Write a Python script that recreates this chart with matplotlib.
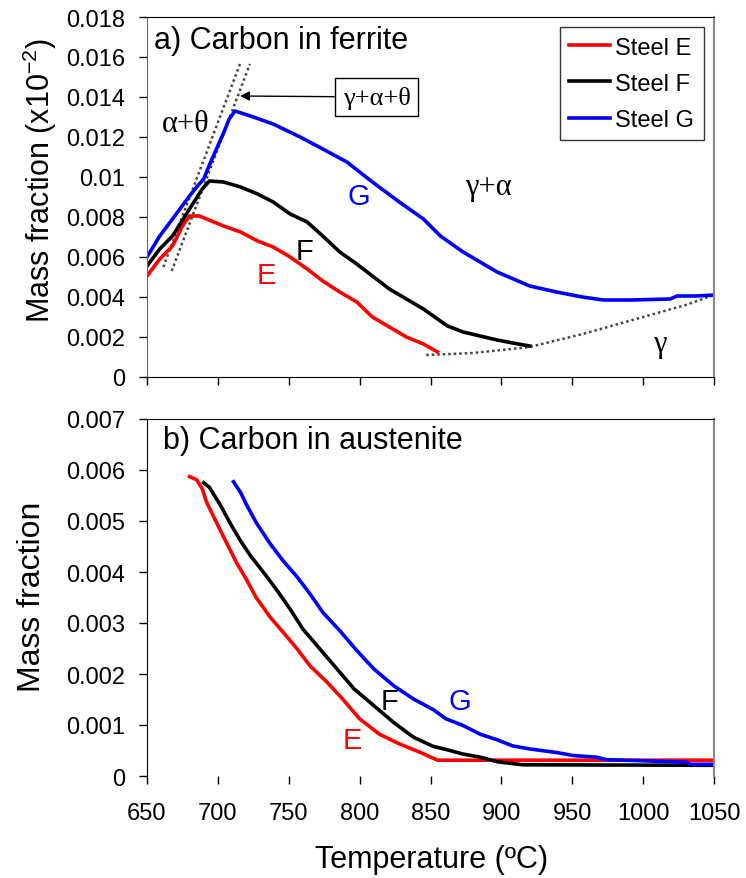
import matplotlib
matplotlib.use("Agg")
import matplotlib.pyplot as plt

plt.rcParams['font.family'] = ['Liberation Sans', 'DejaVu Sans']
plt.rcParams['mathtext.default'] = 'regular'

# ---------------- data: (a) carbon in ferrite ----------------
fe_E_T = [650, 659, 668, 675, 680, 687, 704, 716, 728, 739, 751, 763, 774, 786, 798, 809, 821, 833, 845, 855]
fe_E_C = [0.00505, 0.0059, 0.00655, 0.00755, 0.00805, 0.00805, 0.00755, 0.00725, 0.0068, 0.0065, 0.006, 0.0054,
          0.0048, 0.00425, 0.00375, 0.0030, 0.0025, 0.0020, 0.00165, 0.00125]
fe_F_T = [650, 659, 668, 680, 689, 694, 704, 716, 728, 739, 751, 763, 774, 786, 798, 809, 821, 833, 845, 857,
          862, 873, 885, 897, 908, 920]
fe_F_C = [0.00555, 0.0064, 0.00705, 0.0084, 0.0094, 0.0098, 0.00975, 0.0095, 0.00915, 0.00875, 0.00815, 0.00775,
          0.00705, 0.00625, 0.00565, 0.00505, 0.0044, 0.0039, 0.0034, 0.0028, 0.00255, 0.00225, 0.00205, 0.00185,
          0.0017, 0.00155]
fe_G_T = [650, 659, 668, 680, 685, 690, 694, 699, 704, 708, 712, 723, 739, 758, 774, 791, 809, 828, 845, 857,
          873, 897, 920, 939, 957, 972, 991, 1019, 1024, 1038, 1050]
fe_G_C = [0.0060, 0.00705, 0.0079, 0.00905, 0.0095, 0.0099, 0.0106, 0.0114, 0.0122, 0.0129, 0.0133, 0.01305,
          0.01265, 0.0120, 0.0114, 0.01075, 0.00975, 0.00875, 0.0079, 0.00705, 0.00625, 0.00525, 0.00455,
          0.00425, 0.0040, 0.00385, 0.00385, 0.0039, 0.00405, 0.00405, 0.0041]
# phase boundaries (dotted)
gam_T = [847, 880, 920, 960, 1000, 1030, 1050]
gam_C = [0.0011, 0.0012, 0.0015, 0.0022, 0.0030, 0.0036, 0.0041]
b1_T = [661.5, 715.6]
b1_C = [0.0055, 0.01565]
b2_T = [667.4, 722.6]
b2_C = [0.0053, 0.01565]

# ---------------- data: (b) carbon in austenite ----------------
au_E_T = [680, 685, 689, 692, 699, 706, 713, 720, 727, 737, 746, 756, 765, 777, 788, 800, 814, 828, 843, 855, 1050]
au_E_C = [0.00587, 0.00581, 0.00563, 0.00537, 0.00497, 0.00458, 0.00419, 0.00386, 0.0035, 0.00311, 0.00282,
          0.00249, 0.00216, 0.00184, 0.00151, 0.00112, 0.00082, 0.00063, 0.00046, 0.00031, 0.00031]
au_F_T = [690, 694, 702, 709, 716, 723, 732, 742, 751, 760, 772, 784, 796, 810, 824, 838, 852, 861, 873, 885,
          897, 906, 915, 1050]
au_F_C = [0.00575, 0.00566, 0.0053, 0.00494, 0.00461, 0.00432, 0.0040, 0.00363, 0.00327, 0.00288, 0.00249,
          0.0021, 0.00171, 0.00138, 0.00105, 0.00076, 0.00058, 0.00052, 0.00043, 0.00037, 0.00028, 0.00025,
          0.00022, 0.00021]
au_G_T = [711, 716, 720, 727, 737, 746, 756, 765, 774, 786, 798, 810, 824, 838, 852, 861, 873, 885, 897, 908,
          920, 939, 951, 967, 974, 998, 1031, 1033, 1050]
au_G_C = [0.00577, 0.00556, 0.00533, 0.00497, 0.00455, 0.00422, 0.0039, 0.00357, 0.00321, 0.00285, 0.00246,
          0.0021, 0.00177, 0.00151, 0.0013, 0.00112, 0.00099, 0.00082, 0.00071, 0.00059, 0.00053, 0.00046,
          0.0004, 0.00037, 0.00032, 0.0003, 0.00027, 0.00023, 0.00023]

x_ticks = [650, 700, 750, 800, 850, 900, 950, 1000, 1050]
top_yticks = [0, 0.002, 0.004, 0.006, 0.008, 0.01, 0.012, 0.014, 0.016, 0.018]
top_ylabels = ['0', '0.002', '0.004', '0.006', '0.008', '0.01', '0.012', '0.014', '0.016', '0.018']
bot_yticks = [0, 0.001, 0.002, 0.003, 0.004, 0.005, 0.006, 0.007]
bot_ylabels = ['0', '0.001', '0.002', '0.003', '0.004', '0.005', '0.006', '0.007']

RED, BLACK, BLUE = '#ff0000', '#000000', '#0000ff'
W, H = 746, 879
fig = plt.figure(figsize=(W / 100, H / 100), dpi=100)

def fr(l, t, r, b):
    return [l / W, 1 - b / H, (r - l) / W, (b - t) / H]

ax1 = fig.add_axes(fr(147, 18, 714, 378))
ax2 = fig.add_axes(fr(147, 420, 714, 777))

lw = 2.6
TICKFS = 17
LBLFS = 21
serif = ['Liberation Serif', 'DejaVu Serif']
dot = dict(color='#444444', ls=(0, (1, 1.2)), lw=1.8)

# ---- top panel ----
ax1.plot(b1_T, b1_C, **dot)
ax1.plot(b2_T, b2_C, **dot)
ax1.plot(gam_T, gam_C, **dot)
ax1.plot(fe_E_T, fe_E_C, color=RED, lw=lw, label='Steel E')
ax1.plot(fe_F_T, fe_F_C, color=BLACK, lw=lw, label='Steel F')
ax1.plot(fe_G_T, fe_G_C, color=BLUE, lw=lw, label='Steel G')
ax1.set_xlim(650, 1050)
ax1.set_ylim(0, 0.018)
ax1.set_xticks(x_ticks)
ax1.set_xticklabels([])
ax1.set_yticks(top_yticks)
ax1.set_yticklabels(top_ylabels)

leg = ax1.legend(loc='upper right', bbox_to_anchor=(0.982, 0.972), borderaxespad=0, fontsize=17,
                 frameon=True, fancybox=False, edgecolor='black', handlelength=1.7, handletextpad=0.25,
                 labelspacing=0.6, borderpad=0.4)
leg.get_frame().set_linewidth(1.0)

ax1.text(0.012, 0.936, 'a) Carbon in ferrite', transform=ax1.transAxes, fontsize=22,
         ha='left', va='center')
ax1.text(677.5, 0.0127, 'α+θ', family=serif, fontsize=22, ha='center', va='center')
ax1.text(891, 0.0095, 'γ+α', family=serif, fontsize=22, ha='center', va='center')
ax1.text(1011.7, 0.00165, 'γ', family=serif, fontsize=22, ha='center', va='center')
ax1.annotate('γ+α+θ', xy=(715.6, 0.01405), xytext=(812, 0.0140), family=serif, fontsize=19,
             ha='center', va='center',
             bbox=dict(boxstyle='square,pad=0.3', fc='white', ec='black', lw=1.0),
             arrowprops=dict(arrowstyle='-|>', color='black', lw=1.0, mutation_scale=14,
                             shrinkA=0, shrinkB=0))
ax1.text(799.5, 0.00905, 'G', color=BLUE, fontsize=LBLFS, ha='center', va='center')
ax1.text(761, 0.0063, 'F', color=BLACK, fontsize=LBLFS, ha='center', va='center')
ax1.text(734, 0.0051, 'E', color=RED, fontsize=LBLFS, ha='center', va='center')

# ---- bottom panel ----
ax2.plot(au_E_T, au_E_C, color=RED, lw=lw)
ax2.plot(au_F_T, au_F_C, color=BLACK, lw=lw)
ax2.plot(au_G_T, au_G_C, color=BLUE, lw=lw)
ax2.set_xlim(650, 1050)
ax2.set_ylim(0, 0.007)
ax2.set_xticks(x_ticks)
ax2.set_xticklabels([str(v) for v in x_ticks])
ax2.set_yticks(bot_yticks)
ax2.set_yticklabels(bot_ylabels)
ax2.text(0.028, 0.941, 'b) Carbon in austenite', transform=ax2.transAxes, fontsize=22,
         ha='left', va='center')
ax2.text(870.7, 0.00147, 'G', color=BLUE, fontsize=LBLFS, ha='center', va='center')
ax2.text(821.4, 0.00147, 'F', color=BLACK, fontsize=LBLFS, ha='center', va='center')
ax2.text(795, 0.000706, 'E', color=RED, fontsize=LBLFS, ha='center', va='center')

for ax in (ax1, ax2):
    ax.tick_params(direction='out', length=6, width=1, labelsize=TICKFS)
    ax.tick_params(axis='y', pad=10)
    ax.spines['top'].set_color('black')
    ax.spines['right'].set_color('#888888')
    ax.spines['right'].set_linewidth(1.5)
ax1.spines['left'].set_color('#666666')
ax2.spines['bottom'].set_visible(False)
ax2.tick_params(axis='x', pad=13)

fig.text(40 / W, 1 - 180 / H, 'Mass fraction (x10$^{-2}$)', rotation=90, fontsize=22,
         ha='center', va='center')
fig.text(32 / W, 1 - 597 / H, 'Mass fraction', rotation=90, fontsize=23, ha='center', va='center')
fig.text(432 / W, 1 - 860 / H, 'Temperature (ºC)', fontsize=22, ha='center', va='center')

fig.savefig('out.png', dpi=100)
